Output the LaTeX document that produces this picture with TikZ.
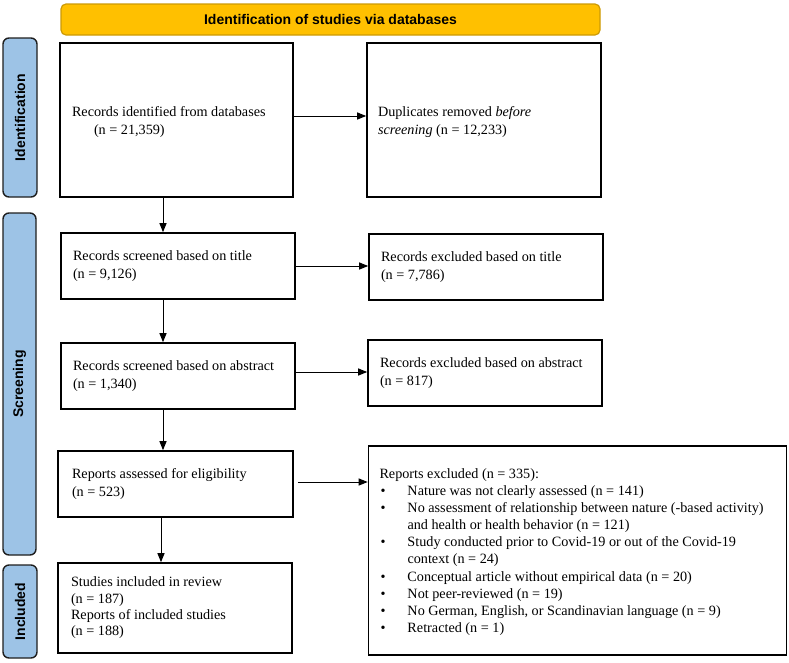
\documentclass[tikz,border=0pt]{standalone}
\usepackage{fontspec}
\setmainfont{Liberation Serif}
\newfontfamily\sansb{Liberation Sans}
\usetikzlibrary{arrows.meta}
\definecolor{gold}{HTML}{FFC000}
\definecolor{golddark}{HTML}{CC9A06}
\definecolor{sideblue}{HTML}{9DC3E6}
\definecolor{sidedark}{HTML}{1E1E1E}
\tikzset{
  flowbox/.style={draw=black, line width=1.6pt, rectangle, align=left,
    inner xsep=0pt, inner ysep=0pt, font=\fontsize{14.2}{18}\selectfont},
  sidebar/.style={draw=sidedark, fill=sideblue, line width=1.4pt, rounded corners=6pt,
    minimum width=34pt, inner sep=0pt},
  sidetext/.style={font=\sansb\bfseries\fontsize{14}{16}\selectfont, rotate=90},
  arr/.style={line width=1pt, -{Triangle[length=9pt,width=7pt]}},
}
\newcommand{\boxtxt}[2]{\parbox{#1pt}{#2}}
\begin{document}
\begin{tikzpicture}[x=1pt,y=-1pt]
\useasboundingbox (0,0) rectangle (789,662);
% banner
\node[draw=golddark, fill=gold, line width=1.2pt, rounded corners=5pt,
  minimum width=539pt, minimum height=31pt, inner sep=0pt,
  font=\sansb\bfseries\fontsize{14}{16}\selectfont] (banner) at (330.5,19.5)
  {Identification of studies via databases};
% side bars
\node[sidebar, minimum height=159pt] (sid) at (20,117.5) {};
\node[sidetext] (sidt) at (sid.center) {Identification};
\node[sidebar, minimum height=342pt, minimum width=33pt] (sscr) at (19.5,384) {};
\node[sidetext] (sscrt) at (sscr.center) {Screening};
\node[sidebar, minimum height=93pt] (sinc) at (20,611.5) {};
\node[sidetext] (sinct) at (sinc.center) {Included};
% boxes
\node[flowbox, minimum width=233pt, minimum height=154pt] (b1) at (176.5,120)
  {\boxtxt{209}{Records identified from databases\\\hspace*{22pt}(n = 21,359)\vspace*{-4pt}}};
\node[flowbox, minimum width=234pt, minimum height=154pt] (b2) at (484,120)
  {\boxtxt{212}{Duplicates removed \textit{before}\\\textit{screening} (n = 12,233)\vspace*{-4pt}}};
\node[flowbox, minimum width=234pt, minimum height=66pt] (b3) at (178,266)
  {\boxtxt{210}{Records screened based on title\\(n = 9,126)}};
\node[flowbox, minimum width=234pt, minimum height=66pt] (b4) at (486,267)
  {\boxtxt{210}{Records excluded based on title\\(n = 7,786)}};
\node[flowbox, minimum width=234pt, minimum height=66pt] (b5) at (178,376)
  {\boxtxt{210}{Records screened based on abstract\\(n = 1,340)}};
\node[flowbox, minimum width=234pt, minimum height=66pt] (b6) at (485,373)
  {\boxtxt{210}{Records excluded based on abstract\\(n = 817)}};
\node[flowbox, minimum width=235pt, minimum height=66pt] (b7) at (175.5,484)
  {\boxtxt{207}{Reports assessed for eligibility\\(n = 523)}};
\node[flowbox, minimum width=234pt, minimum height=90pt] (b9) at (175,608)
  {\boxtxt{208}{\fontsize{14.2}{16.3}\selectfont Studies included in review\\(n = 187)\\Reports of included studies\\(n = 188)}};
\node[flowbox, minimum width=418pt, minimum height=209pt] (b8) at (577.5,550.5)
  {\boxtxt{396}{\fontsize{14.2}{17.1}\selectfont Reports excluded (n = 335):\\
  \makebox[28pt][l]{\hspace{1pt}\textbullet}Nature was not clearly assessed (n = 141)\\
  \makebox[28pt][l]{\hspace{1pt}\textbullet}No assessment of relationship between nature (-based activity)\\
  \hspace*{28pt}and health or health behavior (n = 121)\\
  \makebox[28pt][l]{\hspace{1pt}\textbullet}Study conducted prior to Covid-19 or out of the Covid-19\\
  \hspace*{28pt}context (n = 24)\\
  \makebox[28pt][l]{\hspace{1pt}\textbullet}Conceptual article without empirical data (n = 20)\\
  \makebox[28pt][l]{\hspace{1pt}\textbullet}Not peer-reviewed (n = 19)\\
  \makebox[28pt][l]{\hspace{1pt}\textbullet}No German, English, or Scandinavian language (n = 9)\\
  \makebox[28pt][l]{\hspace{1pt}\textbullet}Retracted (n = 1)\vspace*{-3pt}}};
% connectors
\draw[arr] ([yshift=4pt]b1.east) -- ([yshift=4pt]b1.east -| b2.west);
\draw[arr] ([xshift=-13.5pt]b1.south) -- ([xshift=-13.5pt]b1.south |- b3.north);
\draw[arr] (b3.east) -- (b3.east -| b4.west);
\draw[arr] ([xshift=-15pt]b3.south) -- ([xshift=-15pt]b3.south |- b5.north);
\draw[arr] ([yshift=4pt]b5.east) -- ([yshift=4pt]b5.east -| b6.west);
\draw[arr] ([xshift=-15pt]b5.south) -- ([xshift=-15pt]b5.south |- b7.north);
\draw[arr] ([xshift=4pt,yshift=2pt]b7.east) -- ([yshift=2pt]b7.east -| b8.west);
\draw[arr] ([xshift=-14.5pt]b7.south) -- ([xshift=-14.5pt]b7.south |- b9.north);
\end{tikzpicture}
\end{document}
